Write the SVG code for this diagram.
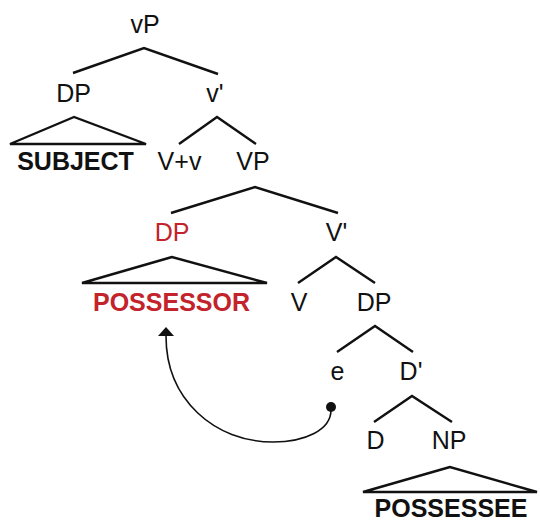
<svg xmlns="http://www.w3.org/2000/svg" width="540" height="521" viewBox="0 0 540 521">
  <style>
    .lbl { font-family: "Liberation Sans", Arial, sans-serif; font-size: 25px; fill: #111; text-anchor: middle; }
    .big { font-family: "Liberation Sans", Arial, sans-serif; font-size: 25px; font-weight: bold; fill: #111; text-anchor: middle; }
    .red { fill: #c3232b; }
    .br { fill: none; stroke: #111; stroke-width: 2.4; stroke-linejoin: miter; stroke-linecap: butt; }
    .mv { fill: none; stroke: #111; stroke-width: 1.6; }
  </style>
  <rect width="540" height="521" fill="#fff"/>

  <!-- branches -->
  <g id="connectors">
    <polyline class="br" points="73,73 144,48 218,74"/>
    <polyline class="br" points="179,144 217,117 256,144"/>
    <polyline class="br" points="171,213 255,187 338,213"/>
    <polyline class="br" points="298,283 336,257 375,283"/>
    <polyline class="br" points="337,352 375,326 413,352"/>
    <polyline class="br" points="374,422 412,396 452,422"/>
    <!-- movement arrow from the empty position back to the possessor -->
    <path class="mv" d="M166,336 C166,400 215,442 273,442 C305,442 331,430 331,410"/>
    <path d="M166,327 L158,336 L174,336 Z" fill="#111"/>
    <circle cx="331" cy="407" r="5" fill="#111"/>
  </g>

  <g id="vP"><text class="lbl" x="145" y="32.5">vP</text></g>

  <g id="DP-subject">
    <text class="lbl" x="73.5" y="102">DP</text>
    <polygon class="br" points="74,117 10,144 146,144"/>
    <text class="big" x="75.5" y="170">SUBJECT</text>
  </g>

  <g id="v-bar"><text class="lbl" x="215" y="102">v'</text></g>
  <g id="V-v"><text class="lbl" x="179.5" y="170">V+v</text></g>
  <g id="VP"><text class="lbl" x="253" y="170">VP</text></g>

  <g id="DP-possessor">
    <text class="lbl red" x="172" y="241">DP</text>
    <polygon class="br" points="172,257 82,283 267,283"/>
    <text class="big red" x="171.5" y="311">POSSESSOR</text>
  </g>

  <g id="V-bar"><text class="lbl" x="336.5" y="241">V'</text></g>
  <g id="V"><text class="lbl" x="299" y="311">V</text></g>
  <g id="DP"><text class="lbl" x="374" y="311">DP</text></g>
  <g id="e"><text class="lbl" x="337.5" y="380">e</text></g>
  <g id="D-bar"><text class="lbl" x="411" y="380">D'</text></g>
  <g id="D"><text class="lbl" x="375.5" y="449">D</text></g>

  <g id="NP">
    <text class="lbl" x="449" y="449">NP</text>
    <polygon class="br" points="450,467 363,492 537,492"/>
    <text class="big" x="451" y="517">POSSESSEE</text>
  </g>
</svg>
